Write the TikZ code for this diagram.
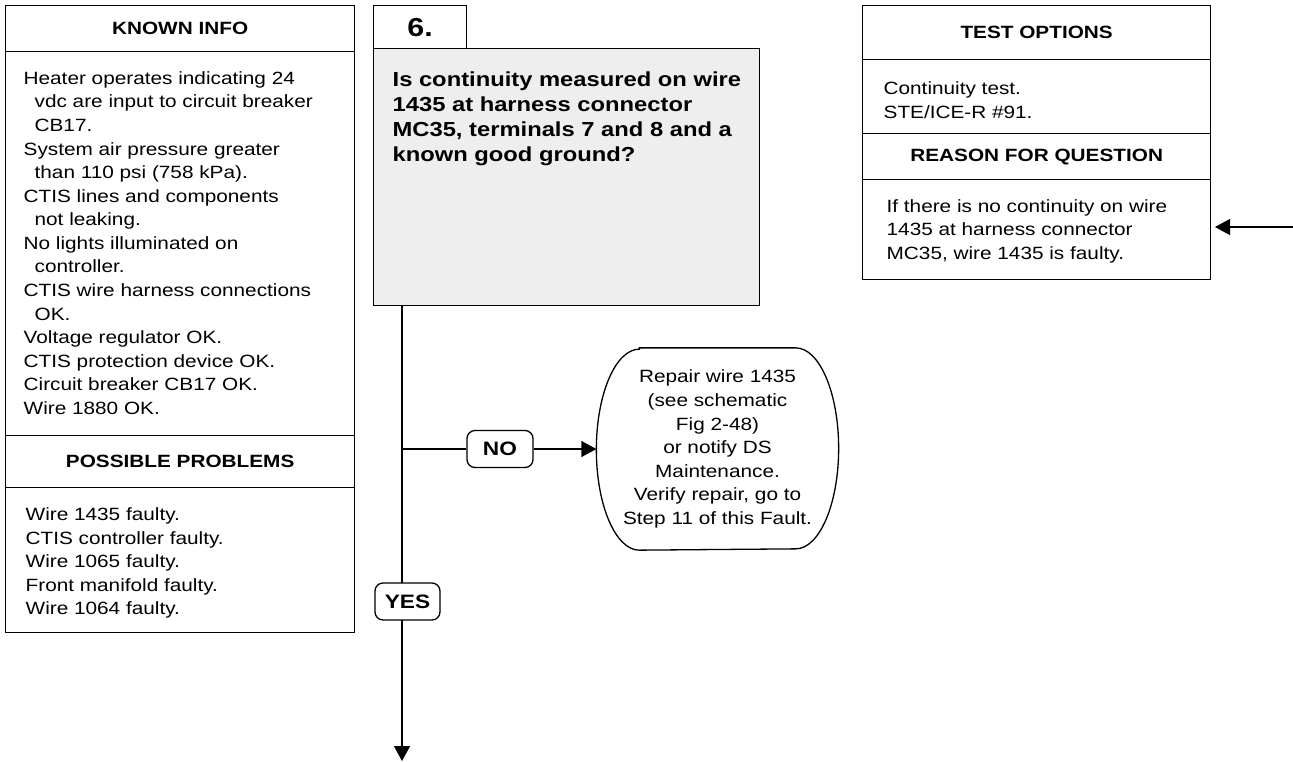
\documentclass[tikz,border=0pt]{standalone}
\usepackage{fontspec}
\setmainfont{Liberation Sans}[FakeStretch=1.17]
\usetikzlibrary{arrows.meta}
\definecolor{qfill}{HTML}{EEEEEE}
\newcommand\bodyfnt{\fontsize{17.75pt}{23.57pt}\selectfont}
\newcommand\headfnt{\fontsize{17.75pt}{23.57pt}\selectfont\bfseries}
\newcommand\qfnt{\fontsize{20.3pt}{25pt}\selectfont\bfseries}
\newcommand\ind{\hspace*{11pt}}
\begin{document}
\begin{tikzpicture}[x=1pt,y=-1pt,
  line width=1.3pt,
  panel/.style={draw,rectangle,inner sep=0pt,anchor=north west},
  head/.style={panel,font=\headfnt},
  txt/.style={anchor=base west,align=left,inner sep=0pt,font=\bodyfnt},
  tag/.style={draw,fill=white,rounded corners=8pt,inner sep=0pt,font=\fontsize{19.4pt}{22pt}\selectfont\bfseries},
  arr/.style={-{Triangle[length=15pt,width=16pt]}}
]
\useasboundingbox (0,0) rectangle (1293,761);
% ---------- left panel ----------
\node[head,minimum width=349pt,minimum height=46pt] (kh) at (5,5) {KNOWN INFO};
\node[panel,minimum width=349pt,minimum height=384pt] (kb) at (5,51) {};
% anchor = baseline of the last line
\node[txt] (kbt) at (23,414.3) {Heater operates indicating 24\\
\ind vdc are input to circuit breaker\\
\ind CB17.\\
System air pressure greater\\
\ind than 110 psi (758 kPa).\\
CTIS lines and components\\
\ind not leaking.\\
No lights illuminated on\\
\ind controller.\\
CTIS wire harness connections\\
\ind OK.\\
Voltage regulator OK.\\
CTIS protection device OK.\\
Circuit breaker CB17 OK.\\
Wire 1880 OK.};
\node[head,minimum width=349pt,minimum height=52pt] (ph) at (5,435) {POSSIBLE PROBLEMS};
\node[panel,minimum width=349pt,minimum height=145pt] (pb) at (5,487) {};
\node[txt] (pbt) at (25,614.7) {Wire 1435 faulty.\\
CTIS controller faulty.\\
Wire 1065 faulty.\\
Front manifold faulty.\\
Wire 1064 faulty.};
% ---------- centre ----------
\node[panel,minimum width=93pt,minimum height=43pt,font=\fontsize{26pt}{30pt}\selectfont\bfseries] (num) at (373,5) {6.};
\node[panel,fill=qfill,minimum width=386pt,minimum height=257pt] (q) at (373,48) {};
\node[anchor=base west,align=left,inner sep=0pt,font=\qfnt] (qt) at (392,161) {Is continuity measured on wire\\
1435 at harness connector\\
MC35, terminals 7 and 8 and a\\
known good ground?};
\coordinate (trunk) at (402,305);
\coordinate (bot) at (402,761);
\coordinate (br) at (402,449);
\draw[arr] (trunk) -- (bot);
\node[tag,minimum width=66pt,minimum height=37pt] (no) at (500,449) {NO};
\node[rectangle,inner sep=0pt,minimum width=241pt,minimum height=201pt,align=center,font=\bodyfnt] (rep) at (717.5,449) {Repair wire 1435\\
(see schematic\\
Fig 2-48)\\
or notify DS\\
Maintenance.\\
Verify repair, go to\\
Step 11 of this Fault.};
\draw ([xshift=43pt]rep.north west) -- ([xshift=-43pt]rep.north east)
  arc[start angle=90,end angle=-90,x radius=43pt,y radius=100.5pt]
  -- ([xshift=43pt]rep.south west)
  arc[start angle=270,end angle=90,x radius=43pt,y radius=100.5pt] -- cycle;
\draw (br) -- (no.west);
\draw[arr] (no.east) -- (rep.west);
\node[tag,minimum width=65pt,minimum height=37pt] (yes) at (407.5,601.5) {YES};
% ---------- right panel ----------
\node[head,minimum width=348pt,minimum height=54pt] (th) at (862,5) {TEST OPTIONS};
\node[panel,minimum width=348pt,minimum height=74pt] (tb) at (862,59) {};
\node[txt] (tbt) at (883,118) {Continuity test.\\
STE/ICE-R \#91.};
\node[head,minimum width=348pt,minimum height=46pt] (rh) at (862,133) {REASON FOR QUESTION};
\node[panel,minimum width=348pt,minimum height=100pt] (rb) at (862,179) {};
\node[txt] (rbt) at (886,259.5) {If there is no continuity on wire\\
1435 at harness connector\\
MC35, wire 1435 is faulty.};
\coordinate (rin) at (1293,227);
\coordinate (rtip) at (1215,227);
\draw[arr] (rin) -- (rtip);
\end{tikzpicture}
\end{document}
